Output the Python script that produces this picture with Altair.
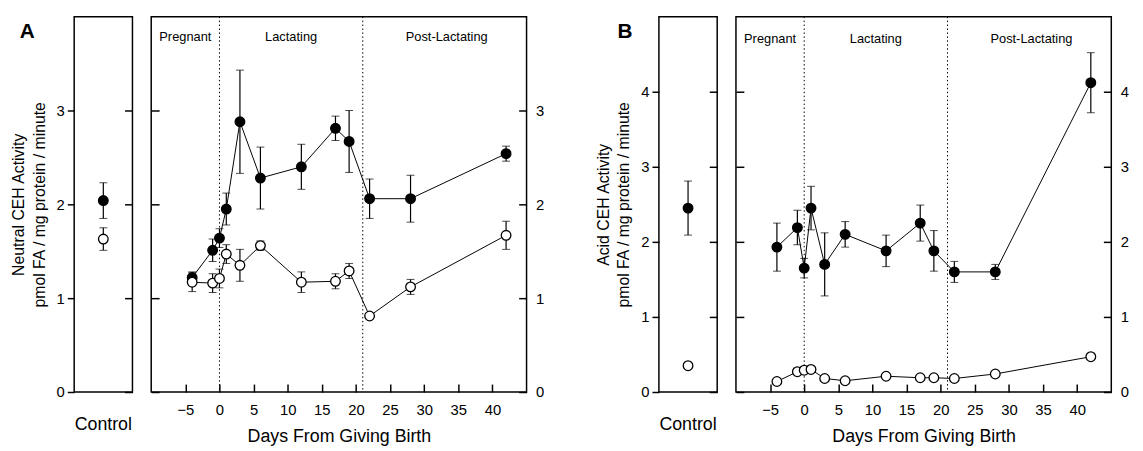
import altair as alt
import pandas as pd

# ---------------- data ----------------
days = [-4, -1, 0, 1, 3, 6, 12, 17, 19, 22, 28, 42]

a_filled = [1.22, 1.51, 1.64, 1.95, 2.88, 2.28, 2.40, 2.81, 2.67, 2.06, 2.06, 2.54]
a_filled_err = [0.06, 0.12, 0.10, 0.17, 0.55, 0.33, 0.24, 0.13, 0.33, 0.21, 0.25, 0.08]
a_open = [1.17, 1.16, 1.21, 1.47, 1.35, 1.56, 1.17, 1.18, 1.29, 0.81, 1.12, 1.67]
a_open_err = [0.10, 0.10, 0.10, 0.10, 0.17, 0.05, 0.11, 0.08, 0.08, 0.0, 0.08, 0.15]
a_ctrl_filled, a_ctrl_filled_err = 2.04, 0.19
a_ctrl_open, a_ctrl_open_err = 1.63, 0.12

b_filled = [1.93, 2.19, 1.65, 2.45, 1.70, 2.10, 1.88, 2.25, 1.88, 1.60, 1.60, 4.12]
b_filled_err = [0.32, 0.23, 0.13, 0.29, 0.42, 0.17, 0.21, 0.24, 0.27, 0.14, 0.10, 0.40]
b_open = [0.14, 0.27, 0.29, 0.30, 0.18, 0.15, 0.21, 0.19, 0.19, 0.18, 0.24, 0.47]
b_open_err = [0.0] * 12
b_ctrl_filled, b_ctrl_filled_err = 2.45, 0.36
b_ctrl_open, b_ctrl_open_err = 0.35, 0.03

phase_names = ["Pregnant", "Lactating", "Post-Lactating"]
phase_x = [-5, 10.5, 33.3]
phase_bounds = [0, 21]
x_ticks = [-5, 0, 5, 10, 15, 20, 25, 30, 35, 40]

FONT = "Liberation Sans"
W_CTRL, W_MAIN, H = 59, 380, 380


def main_df(f, fe, o, oe):
    rows = []
    for d, v, e in zip(days, f, fe):
        rows.append(dict(day=d, val=v, lo=v - e, hi=v + e, kind="filled"))
    for d, v, e in zip(days, o, oe):
        rows.append(dict(day=d, val=v, lo=v - e, hi=v + e, kind="open"))
    return pd.DataFrame(rows)


def ctrl_df(f, fe, o, oe):
    return pd.DataFrame([
        dict(grp="Control", val=f, lo=f - fe, hi=f + fe, kind="filled"),
        dict(grp="Control", val=o, lo=o - oe, hi=o + oe, kind="open"),
    ])


fill_enc = alt.Fill("kind:N", scale=alt.Scale(domain=["filled", "open"], range=["black", "white"]), legend=None)


def control_chart(df, ymax, yticks, ylabel, letter, letter_dx):
    yscale = alt.Scale(domain=[0, ymax], nice=False, zero=True)
    xenc = alt.X("grp:N", scale=alt.Scale(domain=["Control"]),
                 axis=alt.Axis(title=None, ticks=False, tickSize=0, domain=False, grid=False,
                               labelAngle=0, labelFontSize=18, labelPadding=24))
    base = alt.Chart(df)
    err = base.mark_errorbar(color="black", ticks=alt.MarkConfig(size=8), rule=alt.MarkConfig(strokeWidth=1.2)).encode(
        x=xenc, y=alt.Y("lo:Q", scale=yscale, axis=None), y2="hi:Q")
    pts = base.mark_circle(size=95, stroke="black", strokeWidth=1.3, opacity=1).encode(
        x=xenc,
        y=alt.Y("val:Q", scale=yscale,
                axis=alt.Axis(orient="left", values=yticks, tickSize=7, tickWidth=1.5, labelPadding=3,
                              labelFontSize=15, domain=False, grid=False, title=ylabel, titleFontSize=16,
                              titleFontWeight="normal", titlePadding=9, titleLineHeight=21)),
        fill=fill_enc)
    right = base.mark_circle(opacity=0).encode(
        x=xenc,
        y=alt.Y("val:Q", scale=yscale,
                axis=alt.Axis(orient="right", values=yticks, tickSize=8, tickWidth=1.5, offset=-8,
                              labels=False, domain=False, grid=False, title=None)))
    return alt.layer(err, pts, right).resolve_axis(y="independent").properties(
        width=W_CTRL, height=H,
        title=alt.TitleParams(letter, anchor="start", frame="group", fontSize=21, fontWeight="bold",
                              font=FONT, dx=letter_dx, dy=30, orient="top"))


def main_chart(df, ymax, yticks, label_y):
    yscale = alt.Scale(domain=[0, ymax], nice=False, zero=True)
    xscale = alt.Scale(domain=[-10, 45], nice=False, zero=False)
    xaxis = alt.Axis(values=x_ticks, tickSize=8, tickWidth=1.5, offset=-8, domain=False, grid=False,
                     labelFontSize=15, labelPadding=11, title="Days From Giving Birth", titleFontSize=18,
                     titleFontWeight="normal", titlePadding=10)
    xenc = alt.X("day:Q", scale=xscale, axis=xaxis)
    base = alt.Chart(df)

    bounds = alt.Chart(pd.DataFrame({"day": phase_bounds})).mark_rule(
        color="black", strokeWidth=1, strokeDash=[1.5, 2.5]).encode(x=xenc)
    labels = alt.Chart(pd.DataFrame({"day": phase_x, "name": phase_names, "yv": [label_y] * 3})).mark_text(
        fontSize=13, font=FONT, color="black").encode(
        x=xenc, y=alt.Y("yv:Q", scale=yscale, axis=None), text="name:N")
    line = base.mark_line(color="black", strokeWidth=1).encode(
        x=xenc, y=alt.Y("val:Q", scale=yscale, axis=None), detail="kind:N")
    err = base.mark_errorbar(color="black", ticks=alt.MarkConfig(size=8), rule=alt.MarkConfig(strokeWidth=1.2)).encode(
        x=xenc, y=alt.Y("lo:Q", scale=yscale, axis=None), y2="hi:Q")
    pts = base.mark_circle(size=95, stroke="black", strokeWidth=1.3, opacity=1).encode(
        x=xenc,
        y=alt.Y("val:Q", scale=yscale,
                axis=alt.Axis(orient="left", values=yticks, tickSize=8, tickWidth=1.5, offset=-8,
                              labels=False, domain=False, grid=False, title=None)),
        fill=fill_enc)
    right = base.mark_circle(opacity=0).encode(
        x=xenc,
        y=alt.Y("val:Q", scale=yscale,
                axis=alt.Axis(orient="right", values=yticks, tickSize=8, tickWidth=1.5, offset=-8,
                              labelPadding=9, labelFontSize=15, domain=False, grid=False, title=None)))
    return alt.layer(bounds, labels, line, err, pts, right).resolve_axis(y="independent").properties(
        width=W_MAIN, height=H)


ctrlA = control_chart(ctrl_df(a_ctrl_filled, a_ctrl_filled_err, a_ctrl_open, a_ctrl_open_err),
                      4, [0, 1, 2, 3], ["Neutral CEH Activity", "pmol FA / mg protein / minute"], "A", -55)
mainA = main_chart(main_df(a_filled, a_filled_err, a_open, a_open_err), 4, [0, 1, 2, 3], 3.78)
ctrlB = control_chart(ctrl_df(b_ctrl_filled, b_ctrl_filled_err, b_ctrl_open, b_ctrl_open_err),
                      5, [0, 1, 2, 3, 4], ["Acid CEH Activity", "pmol FA / mg protein / minute"], "B", -42)
mainB = main_chart(main_df(b_filled, b_filled_err, b_open, b_open_err), 5, [0, 1, 2, 3, 4], 4.70)

spacer = alt.Chart(pd.DataFrame({"a": [0]})).mark_point(opacity=0).encode(
    x=alt.value(0), y=alt.value(0)).properties(width=96, height=H, view=alt.ViewBackground(strokeOpacity=0))

chart = alt.hconcat(ctrlA, mainA, spacer, ctrlB, mainB, spacing=19, bounds="flush").properties(
    padding={"left": 1, "top": 3, "right": 5, "bottom": 5}, background="white"
).configure_view(stroke="black", strokeWidth=1.5).configure_axis(
    labelFont=FONT, titleFont=FONT, labelColor="black", titleColor="black", tickColor="black", grid=False
)

chart.save("out.html", embed_options={"renderer": "svg", "actions": False})
